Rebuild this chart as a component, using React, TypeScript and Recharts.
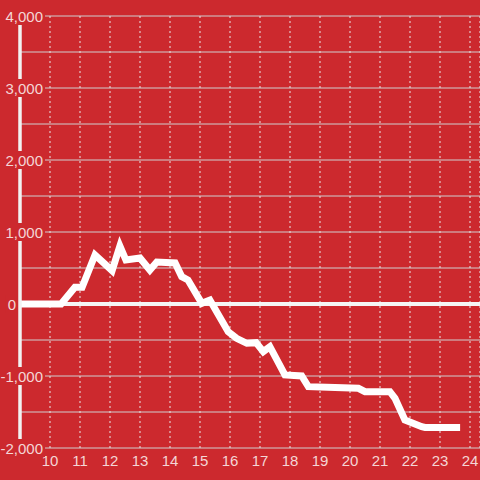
import React from 'react';
import { LineChart, Line, XAxis, YAxis, CartesianGrid, ReferenceLine } from 'recharts';

const HOURS = [9, 10.37, 10.83, 11.07, 11.5, 12.07, 12.33, 12.53, 13.0, 13.33, 13.56, 14.17, 14.39, 14.6, 15.06, 15.33, 15.94, 16.22, 16.56, 16.87, 17.11, 17.33, 17.83, 18.39, 18.61, 19.5, 20.28, 20.5, 21.33, 21.5, 21.83, 22.39, 22.5, 23.67];
const BALANCE = [0, 0, 232, 232, 680, 463, 805, 611, 640, 472, 583, 570, 380, 333, 9, 55, -384, -477, -546, -537, -662, -593, -986, -1000, -1148, -1160, -1171, -1218, -1218, -1310, -1611, -1704, -1715, -1715];
const X_TICKS = [10, 11, 12, 13, 14, 15, 16, 17, 18, 19, 20, 21, 22, 23, 24];
const Y_TICKS = [-2000, -1500, -1000, -500, 0, 500, 1000, 1500, 2000, 2500, 3000, 3500, 4000];

const data = HOURS.map((h, i) => ({ hour: h, value: BALANCE[i] }));

const BG = '#cc292e';
const TEXT = '#f4d6d6';

const fmt = (v: number) => v.toLocaleString('en-US');

const YTick = (props: any) => {
    const { y, payload } = props;
    const v = payload.value as number;
    if (v % 1000 !== 0) return <g />;
    const label = fmt(v);
    const right = v === 0 ? 16 : 43;
    const w = label.length * 8.2 + 2;
    return (
        <g>
            <rect x={right - w} y={y - 9} width={w + 2} height={18} fill={BG} />
            <text x={right} y={y + 5.5} textAnchor="end" fill={TEXT} fontSize={15} fontFamily="'Liberation Sans', Arial, sans-serif">
                {label}
            </text>
        </g>
    );
};

const XTick = (props: any) => {
    const { x, payload } = props;
    return (
        <text x={x} y={466} textAnchor="middle" fill={TEXT} fontSize={15} fontFamily="'Liberation Sans', Arial, sans-serif">
            {payload.value}
        </text>
    );
};

const App: React.FC = () => {
    return (
        <div style={{ width: 480, height: 480, background: BG }}>
            <style>{`body { margin: 0; }`}</style>
            <LineChart width={480} height={480} data={data} margin={{ top: 16, right: 0, left: 19, bottom: 0 }}>
                <CartesianGrid horizontal={true} vertical={false} stroke="#cfcfcf" strokeWidth={1} />
                <CartesianGrid horizontal={false} vertical={true} stroke="#e8e8e8" strokeDasharray="2 3" strokeWidth={1} />
                <XAxis
                    dataKey="hour"
                    type="number"
                    domain={[9, 24.333]}
                    ticks={X_TICKS}
                    allowDataOverflow
                    height={32}
                    axisLine={false}
                    tickLine={false}
                    tickSize={0}
                    tickMargin={0}
                    interval={0}
                    tick={<XTick />}
                />
                <ReferenceLine y={0} stroke="#f5f5f5" strokeWidth={4} />
                <Line
                    type="linear"
                    dataKey="value"
                    stroke="#ffffff"
                    strokeWidth={7}
                    strokeLinejoin="miter"
                    strokeLinecap="butt"
                    dot={false}
                    activeDot={false}
                    isAnimationActive={false}
                />
                <YAxis
                    type="number"
                    domain={[-2000, 4000]}
                    ticks={Y_TICKS}
                    width={1}
                    interval={0}
                    axisLine={{ stroke: '#f2f2f2', strokeWidth: 3.5 }}
                    tickLine={false}
                    tickSize={0}
                    tickMargin={0}
                    tick={<YTick />}
                />
            </LineChart>
        </div>
    );
};

export default App;
